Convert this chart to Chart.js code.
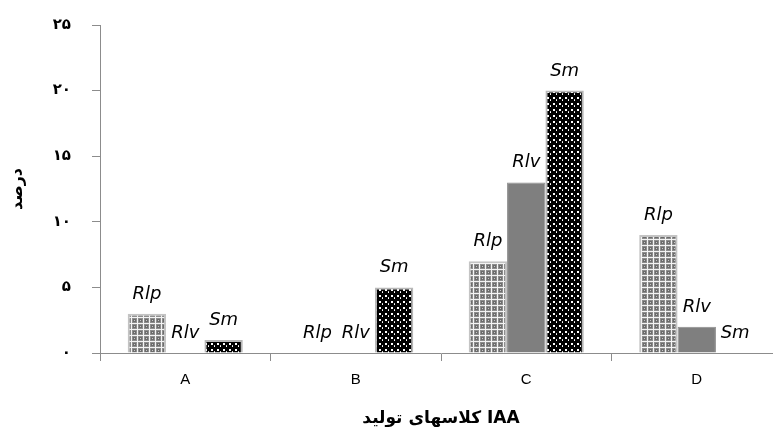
<!DOCTYPE html>
<html>
<head>
<meta charset="utf-8">
<script src="https://cdn.jsdelivr.net/npm/chart.js@4.4.0/dist/chart.umd.min.js"></script>
<style>
    html, body { margin: 0; padding: 0; background: #fff; overflow: hidden; }
    #wrap { width: 790px; height: 430px; }
</style>
</head>
<body>
<div id="wrap"><canvas id="chart" width="790" height="430"></canvas></div>
<script>
// IAA production classes
const categories = ['A', 'B', 'C', 'D'];
const seriesNames = ['Rlp', 'Rlv', 'Sm'];
const rlpValues = [3, 0, 7, 9];
const rlvValues = [0, 0, 13, 2];
const smValues = [1, 5, 20, 0];
const yTicks = [0, 5, 10, 15, 20, 25];

const faDigits = '۰۱۲۳۴۵۶۷۸۹';
function toPersian(n) {
    return String(n).replace(/\d/g, d => faDigits[d]);
}

// Fill patterns built on small tiles
function makePattern(size, draw) {
    const c = document.createElement('canvas');
    c.width = size; c.height = size;
    const t = c.getContext('2d');
    draw(t, size);
    return t.createPattern(c, 'repeat');
}

const ctx = document.getElementById('chart').getContext('2d');

const rlpFill = makePattern(6, (t) => {
    t.fillStyle = '#8e8e8e';
    t.fillRect(0, 0, 6, 6);
    t.fillStyle = '#f4f4f4';
    t.fillRect(0, 5, 6, 1);
    t.fillRect(5, 0, 1, 6);
    t.fillStyle = '#6c6c6c';
    t.fillRect(1, 1, 3, 3);
    t.fillStyle = '#c8c8c8';
    t.fillRect(2, 2, 1, 1);
});

const smFill = makePattern(6, (t) => {
    t.fillStyle = '#000';
    t.fillRect(0, 0, 6, 6);
    t.fillStyle = '#fff';
    t.fillRect(1, 1, 2, 2);
    t.fillRect(4, 4, 1, 1);
    t.fillStyle = '#d0d0d0';
    t.fillRect(4, 3, 1, 1);
});

// Labels above every bar, zero bars included
const barLabels = {
    id: 'barLabels',
    afterDatasetsDraw(chart) {
        const c = chart.ctx;
        c.save();
        c.font = 'italic 18px "DejaVu Sans"';
        c.fillStyle = '#000';
        c.textAlign = 'center';
        c.textBaseline = 'alphabetic';
        chart.data.datasets.forEach((ds, i) => {
            chart.getDatasetMeta(i).data.forEach((bar) => {
                c.fillText(ds.label, bar.x, bar.y - 15);
            });
        });
        c.restore();
    }
};

const axisColor = '#8c8c8c';

new Chart(ctx, {
    type: 'bar',
    data: {
        labels: categories,
        datasets: [{
            label: seriesNames[0],
            data: rlpValues,
            backgroundColor: rlpFill,
            borderColor: '#c4c4c4',
            borderWidth: 2
        }, {
            label: seriesNames[1],
            data: rlvValues,
            backgroundColor: '#7f7f7f',
            borderColor: '#8a8a8a',
            borderWidth: 1
        }, {
            label: seriesNames[2],
            data: smValues,
            backgroundColor: smFill,
            borderColor: '#b8b8b8',
            borderWidth: 2
        }]
    },
    options: {
        responsive: false,
        animation: false,
        layout: {
            padding: { top: 25, right: 8, bottom: 0, left: 0 }
        },
        datasets: {
            bar: {
                categoryPercentage: 0.675,
                barPercentage: 1.0
            }
        },
        scales: {
            x: {
                afterFit(scale) { scale.height = 77; },
                grid: {
                    offset: true,
                    drawOnChartArea: false,
                    color: axisColor,
                    tickLength: 8
                },
                border: { color: axisColor },
                ticks: {
                    color: '#000',
                    padding: 10,
                    font: { family: '"Liberation Sans"', size: 15 }
                },
                title: {
                    display: true,
                    text: 'کلاسهای تولید IAA',
                    color: '#000',
                    padding: { top: 0, bottom: 1 },
                    font: { family: '"DejaVu Sans"', size: 17, weight: 'bold' }
                }
            },
            y: {
                min: 0,
                max: 25,
                afterFit(scale) {
                    scale.width = 100;
                    // tick padding would otherwise push the plot top down
                    scale.paddingTop = 0;
                    scale.paddingBottom = 0;
                },
                afterBuildTicks(scale) {
                    scale.ticks = yTicks.map(v => ({ value: v }));
                },
                grid: {
                    drawOnChartArea: false,
                    color: axisColor,
                    tickLength: 8
                },
                border: { color: axisColor },
                ticks: {
                    color: '#000',
                    padding: 21,
                    font: { family: '"DejaVu Sans"', size: 15, weight: 'bold' },
                    callback: function(value) {
                        return toPersian(value);
                    }
                },
                title: {
                    display: true,
                    text: 'درصد',
                    color: '#000',
                    padding: { top: 8, bottom: 0 },
                    font: { family: '"DejaVu Sans"', size: 16, weight: 'bold' }
                }
            }
        },
        plugins: {
            legend: { display: false },
            tooltip: { enabled: false }
        }
    },
    plugins: [barLabels]
});
</script>
</body>
</html>
